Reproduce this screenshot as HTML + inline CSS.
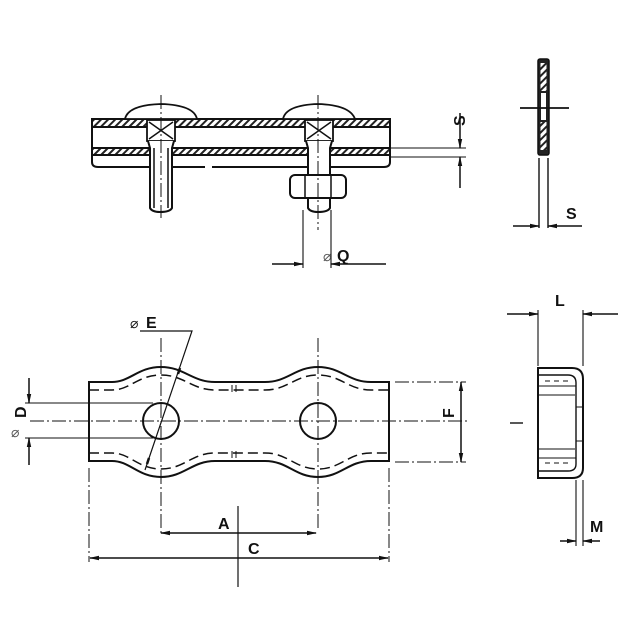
<!DOCTYPE html>
<html><head><style>html,body{margin:0;padding:0;background:#fff}svg{display:block}</style></head>
<body>
<svg width="640" height="640" viewBox="0 0 640 640" xmlns="http://www.w3.org/2000/svg" font-family="Liberation Sans, sans-serif">
<defs>
<pattern id="h" width="5" height="5" patternUnits="userSpaceOnUse" patternTransform="rotate(45)">
<rect width="5" height="5" fill="#fff"/><rect width="2" height="5" fill="#222"/></pattern>
<marker id="a" markerWidth="10" markerHeight="6" refX="9" refY="3" orient="auto" markerUnits="userSpaceOnUse"><path d="M0,0.8 L10,3 L0,5.2 Z" fill="#111"/></marker>
</defs>
<g stroke="#111" fill="none" stroke-width="1.5">
<!-- TOP ASSEMBLY -->
<rect x="92" y="119" width="298" height="8" fill="url(#h)" stroke-width="2"/>
<rect x="92" y="148" width="298" height="7" fill="url(#h)" stroke-width="2"/>
<path d="M92,127 V162 Q92,167 98,167 H205 M212,167 H384 Q390,167 390,162 V127" stroke-width="2"/>
<path d="M125,119 Q128,105 161,104 Q194,105 197,119 Z" fill="#fff" stroke-width="1.8"/>
<path d="M283,119 Q286,105 318,104 Q350,105 355,119 Z" fill="#fff" stroke-width="1.8"/>
<!-- left bolt -->
<rect x="147" y="120" width="28" height="21" fill="#fff" stroke-width="1.8"/>
<path d="M149,122 L173,139 M173,122 L149,139"/>
<path d="M148,141 L150,148 V208 Q152,212 160,212 Q170,212 172,208 V148 L174,141" fill="#fff" stroke-width="2"/>
<path d="M154,148 V208 M168,148 V208"/>
<!-- right bolt -->
<rect x="305" y="120" width="28" height="21" fill="#fff" stroke-width="1.8"/>
<path d="M307,122 L331,139 M331,122 L307,139"/>
<path d="M306,141 L308,148 V208 Q310,212 318,212 Q328,212 330,208 V148 L332,141" fill="#fff" stroke-width="2"/>
<rect x="290" y="175" width="56" height="23" rx="5" fill="#fff" stroke-width="2"/>
<path d="M305,176 V197 M331,176 V197"/>
<path d="M161,95 V218 M318,95 V230" stroke-width="1" stroke-dasharray="14,3,2,3"/>
<!-- Q dim -->
<path d="M303,210 V268 M331,210 V268" stroke-width="1.1"/>
<path d="M272,264 H303" marker-end="url(#a)"/>
<path d="M386,264 H331" marker-end="url(#a)"/>
<!-- S dim top -->
<path d="M390,148 H466 M390,157 H466" stroke-width="1.1"/>
<path d="M460,113 V148" marker-end="url(#a)"/>
<path d="M460,188 V157" marker-end="url(#a)"/>
<!-- RIGHT TOP SIDE -->
<rect x="538" y="59" width="11" height="96" rx="2" fill="#222" stroke-width="1.5"/>
<rect x="540.5" y="63" width="6" height="28" fill="url(#h)" stroke="none"/>
<rect x="540.5" y="122" width="6" height="28" fill="url(#h)" stroke="none"/>
<rect x="541" y="93" width="5" height="27" fill="#fff" stroke="none"/>
<path d="M520,108 H569" stroke-width="1.8"/>
<path d="M539,158 V228 M548,158 V228" stroke-width="1.4"/>
<path d="M513,226 H539" marker-end="url(#a)"/>
<path d="M582,226 H548" marker-end="url(#a)"/>
<!-- BOTTOM PLATE -->
<path d="M89,382 H112 C130,382 138,367 161,367 C184,367 192,382 215,382 H265 C288,382 295,367 318,367 C341,367 348,382 371,382 H389 V461 H371 C348,461 341,477 318,477 C295,477 288,461 265,461 H215 C192,461 184,477 161,477 C138,477 130,461 112,461 H89 Z" stroke-width="2"/>
<path d="M89,390 H112 C130,390 138,375 161,375 C184,375 192,390 215,390 H265 C288,390 295,375 318,375 C341,375 348,390 371,390 H389 M89,453 H112 C130,453 138,469 161,469 C184,469 192,453 215,453 H265 C288,453 295,469 318,469 C341,469 348,453 371,453 H389" stroke-dasharray="10,5" stroke-width="1.5"/>
<path d="M232,385 V392 M236,385 V392 M232,451 V458 M236,451 V458" stroke-width="1"/>
<circle cx="161" cy="421" r="18" fill="#fff" stroke-width="2"/>
<circle cx="318" cy="421" r="18" fill="#fff" stroke-width="2"/>
<path d="M161,338 V535 M318,338 V530" stroke-width="1" stroke-dasharray="14,3,2,3"/>
<path d="M30,421 H470" stroke-width="1" stroke-dasharray="14,3,2,3"/>
<!-- E leader -->
<path d="M140,331 H192 L145,470" stroke-width="1.2"/>
<path d="M180,368 l-2,6 M149,458 l-2,6" stroke-width="2.5"/>
<!-- D -->
<path d="M25,403 H153 M25,438 H153" stroke-width="1.1"/>
<path d="M29,378 V403" marker-end="url(#a)"/>
<path d="M29,465 V438" marker-end="url(#a)"/>
<!-- F -->
<path d="M395,382 H466 M395,462 H466" stroke-width="1" stroke-dasharray="14,3,2,3"/>
<path d="M461,421 V382" marker-end="url(#a)"/>
<path d="M461,421 V462" marker-end="url(#a)"/>
<!-- A, C -->
<path d="M89,468 V562 M389,468 V562" stroke-width="1" stroke-dasharray="14,3,2,3"/>
<path d="M238,533 H161" marker-end="url(#a)"/>
<path d="M238,533 H316" marker-end="url(#a)"/>
<path d="M238,558 H90" marker-end="url(#a)"/>
<path d="M238,558 H388" marker-end="url(#a)"/>
<path d="M238,506 V587" stroke-width="1.2"/>
<!-- RIGHT BOTTOM SIDE -->
<path d="M538,368 H572 Q583,368 583,379 V468 Q583,478 572,478 H538 Z" stroke-width="2"/>
<path d="M539,375 H568 Q576,375 576,383 V464 Q576,471 568,471 H539" stroke-width="1.4"/>
<path d="M539,386 H576 M539,458 H576 M539,395 H575 M539,449 H575" stroke-width="1"/>
<path d="M545,381 H568 M545,463 H568" stroke-width="1" stroke-dasharray="5,4"/>
<path d="M576,407 H583 M576,441 H583" stroke-width="1"/>
<path d="M510,423 H523" stroke-width="1.4"/>
<path d="M538,310 V366 M583,310 V366" stroke-width="1.1"/>
<path d="M507,314 H538" marker-end="url(#a)"/>
<path d="M618,314 H583" marker-end="url(#a)"/>
<path d="M576,480 V546 M583,480 V546" stroke-width="1.1"/>
<path d="M560,541 H576" marker-end="url(#a)"/>
<path d="M600,541 H583" marker-end="url(#a)"/>
</g>
<g fill="#111" font-size="16" font-weight="bold">
<text x="323" y="261" font-weight="normal" font-size="14" fill="#555">⌀</text>
<text x="337" y="261">Q</text>
<text x="465" y="136" transform="rotate(-90 460 131)">S</text>
<text x="566" y="219">S</text>
<text x="130" y="328" font-size="14" font-weight="normal">⌀</text>
<text x="146" y="328">E</text>
<text x="218" y="529">A</text>
<text x="248" y="554">C</text>
<text x="14" y="418" transform="rotate(-90 20 412)">D</text>
<text x="11" y="437" font-size="14" font-weight="normal" fill="#555">⌀</text>
<text x="440" y="416" transform="rotate(-90 448 410)">F</text>
<text x="555" y="306">L</text>
<text x="590" y="532">M</text>
</g>
</svg>
</body></html>
